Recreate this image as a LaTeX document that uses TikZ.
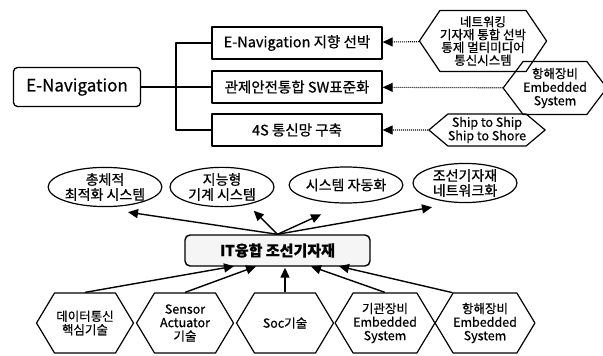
\documentclass[tikz,border=0pt]{standalone}
\usepackage{fontspec}
\setmainfont{Noto Sans CJK KR}[FakeBold=0.6]
\usetikzlibrary{arrows.meta,shapes.symbols,shapes.geometric}

\tikzset{
  navbox/.style={draw, rounded corners=4pt, line width=1.3pt, minimum width=127pt, minimum height=39pt, font=\fontsize{17}{19}\selectfont},
  goalbox/.style={draw, line width=1.3pt, minimum width=170pt, minimum height=32pt, font=\fontsize{14.5}{16}\selectfont},
  techhex/.style={draw, line width=1.2pt, signal, signal to=west and east, inner sep=0pt, align=center, font=\fontsize{12.5}{13.5}\selectfont},
  aimell/.style={draw, ellipse, line width=1.2pt, minimum width=104pt, minimum height=32pt, inner sep=0pt, align=center, font=\fontsize{14}{15}\selectfont},
  itbox/.style={draw, rounded corners=5pt, line width=1.4pt, fill=gray!8, minimum width=185pt, minimum height=31pt, font=\bfseries\fontsize{15}{16}\selectfont},
  feed/.style={->, line width=1.1pt, dash pattern=on 1pt off 1pt},
  link/.style={->, line width=1.4pt, shorten >=1pt}
}

\begin{document}
\begin{tikzpicture}[x=1pt, y=-1pt, >={Triangle[length=10pt,width=9pt]}, line join=round]
	\useasboundingbox (0,0) rectangle (603,356);

	% E-Navigation tree
	\node [navbox] 		(en)  at (77,87)	{E-Navigation};
	\node [goalbox] 	(b1)  at (297,43)	{E-Navigation 지향 선박};
	\node [goalbox] 	(b2)  at (297,87)	{관제안전통합 SW표준화};
	\node [goalbox] 	(b3)  at (297,130)	{4S 통신망 구축};
	\coordinate (jn) at (176,87);

	\draw [line width=1.3pt] (en) -- (jn);
	\draw [line width=1.3pt] (jn) |- (b1);
	\draw [line width=1.3pt] (jn) |- (b2);
	\draw [line width=1.3pt] (jn) |- (b3);

	% feeding hexagons
	\node [techhex, minimum width=110pt, minimum height=61pt, signal pointer angle=112, font=\fontsize{12.5}{12.8}\selectfont] (th1) at (483,41) {네트워킹\\기자재 통합 선박\\통제 멀티미디어\\통신시스템};
	\node [techhex, minimum width=95pt, minimum height=53pt, signal pointer angle=106] (th2) at (555,88) {항해장비\\Embedded\\System};
	\node [techhex, minimum width=99pt, minimum height=32pt, signal pointer angle=80] (th3) at (487,130) {Ship to Ship\\Ship to Shore};

	\path [feed] (th1) edge (b1);
	\path [feed] (th2) edge (b2);
	\path [feed] (th3) edge (b3);

	% IT convergence
	\node [itbox] 	(it)  at (277.5,250.5)	{IT융합 조선기자재};

	\node [aimell] (e1) at (105,187) {총체적\\최적화 시스템};
	\node [aimell] (e2) at (222,187) {지능형\\기계 시스템};
	\node [aimell, minimum height=36pt] (e3) at (346,185) {시스템 자동화};
	\node [aimell, minimum height=39pt] (e4) at (465,183) {조선기자재\\네트워크화};

	\coordinate (t1) at (127,212);
	\coordinate (t2) at (253,210);
	\coordinate (t3) at (322,214);
	\coordinate (t4) at (433,207);
	\foreach \t in {t1,t2,t3,t4}
		\draw [link] (it.north) -- (\t);

	% base technologies
	\begin{scope}[node distance=100pt]
	\node [techhex, minimum width=97pt, minimum height=60pt, signal pointer angle=118] (h1) at (85,323) {데이터통신\\핵심기술};
	\node [techhex, minimum width=97pt, minimum height=60pt, signal pointer angle=118] (h2) [right of=h1] {Sensor\\Actuator\\기술};
	\node [techhex, minimum width=97pt, minimum height=60pt, signal pointer angle=118] (h3) [right of=h2] {Soc기술};
	\node [techhex, minimum width=97pt, minimum height=60pt, signal pointer angle=118] (h4) [right of=h3] {기관장비\\Embedded\\System};
	\node [techhex, minimum width=97pt, minimum height=60pt, signal pointer angle=118] (h5) [right of=h4] {항해장비\\Embedded\\System};
	\end{scope}

	\coordinate (s1) at (235,266);
	\coordinate (s2) at (257,266);
	\coordinate (s4) at (310,266);
	\coordinate (s5) at (338,266);

	\draw [link] (h1.north) -- (s1);
	\draw [link] (h2.north) -- (s2);
	\draw [link] (h3.north) -- (h3.north |- it.south);
	\draw [link] (h4.north) -- (s4);
	\draw [link] (h5.north west) -- (s5);

\end{tikzpicture}
\end{document}
